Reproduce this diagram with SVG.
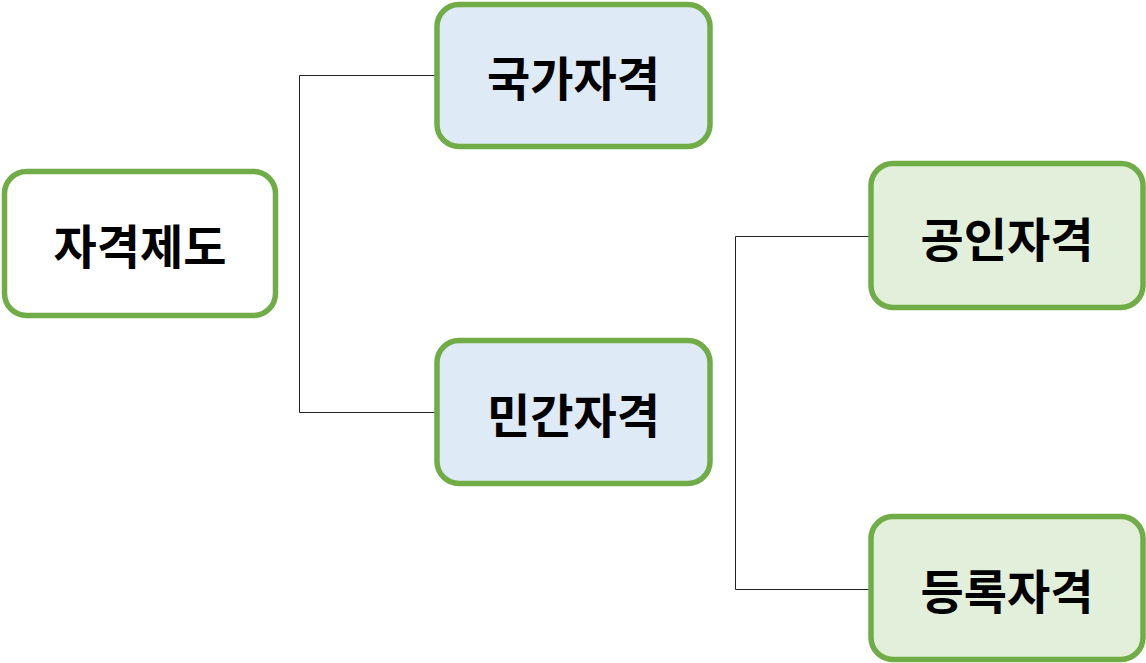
<svg xmlns="http://www.w3.org/2000/svg" width="1146" height="663" viewBox="0 0 1146 663">
<style>
.n{stroke:#70AD47;stroke-width:5.5}
.w{fill:#FFFFFF}
.b{fill:#DEEAF6}
.g{fill:#E2EFDA}
.t{font-family:"Noto Sans CJK KR","Noto Sans",sans-serif;font-weight:bold;font-size:47px;fill:#000;text-anchor:middle;dominant-baseline:central}
.c{fill:none;stroke:#222;stroke-width:1}
</style>
<rect width="1146" height="663" fill="#FFFFFF"/>
<g id="connectors">
<path class="c" d="M437.5,75.5 H299.5 V412.5 H440"/>
<path class="c" d="M871,236.5 H735.5 V589.5 H873"/>
</g>
<g id="n-root"><rect class="n w" x="4.5" y="171.5" width="271" height="144" rx="22"/><text class="t" x="140" y="243">자격제도</text></g>
<g id="n-national"><rect class="n b" x="437" y="4.5" width="273" height="142" rx="22"/><text class="t" x="573.5" y="75">국가자격</text></g>
<g id="n-private"><rect class="n b" x="437" y="340.5" width="273" height="143" rx="22"/><text class="t" x="573.5" y="412">민간자격</text></g>
<g id="n-certified"><rect class="n g" x="871" y="163.5" width="272" height="144" rx="22"/><text class="t" x="1007" y="236">공인자격</text></g>
<g id="n-registered"><rect class="n g" x="871" y="516.5" width="272" height="143" rx="22"/><text class="t" x="1007" y="588">등록자격</text></g>
</svg>
